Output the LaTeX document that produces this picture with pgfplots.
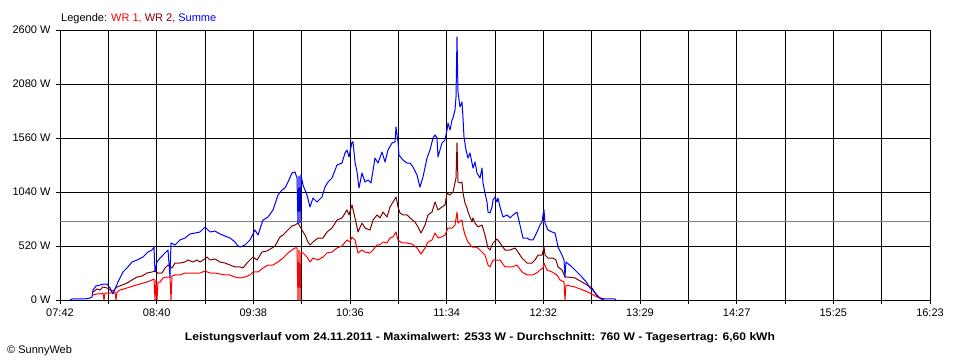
\documentclass[border=0pt]{standalone}
\usepackage{fontspec}
\setmainfont{Liberation Sans}
\usepackage{graphicx}
\usepackage{pgfplots}
\pgfplotsset{compat=1.18}
\definecolor{wrone}{RGB}{255,0,0}
\definecolor{wrtwo}{RGB}{128,0,0}
\definecolor{summe}{RGB}{0,0,255}
\definecolor{avggray}{RGB}{128,128,128}
\newcommand{\lbl}{\fontsize{11}{13}\selectfont}
\begin{document}
\begin{tikzpicture}
\begin{axis}[
  at={(0pt,0pt)}, anchor=south west,
  scale only axis, width=870pt, height=270pt,
  xmin=0, xmax=522, ymin=0, ymax=2600,
  xtick={0,29,...,522},
  xticklabels={07:42,,08:40,,09:38,,10:36,,11:34,,12:32,,13:29,,14:27,,15:25,,16:23},
  ytick={0,520,...,2600},
  yticklabels={0 W,520 W,1040 W,1560 W,2080 W,2600 W},
  xtick pos=bottom, ytick pos=left,
  grid=major, major grid style={black, line width=1pt},
  axis line style={black, line width=1pt},
  tick style={black, line width=1pt},
  tick align=outside, major tick length=4pt,
  xticklabel style={font=\lbl, yshift=-1pt},
  yticklabel style={font=\lbl, xshift=-2pt},
  every axis plot/.append style={line width=1pt, line join=round, mark=none},
  clip=false,
]
\addplot[avggray] coordinates {(0,760) (522,760)};
% WR 1
\addplot[wrone] coordinates {
(19.8,48) (22.2,58) (24,58) (25.8,67) (26.4,0) (27,67) (30,67) (33,77) (33.6,0) (34.2,77)
(36,96) (40.2,116) (43.8,135) (48,154) (52.2,173) (55.2,193) (56.4,202) (57,0) (57.6,193) (58.2,0)
(58.8,173) (60,173) (61.8,212) (64.2,221) (66,221) (66.6,0) (67.2,231) (69,241) (72,241) (75,260)
(78,260) (81,260) (84,260) (87,279) (90,260) (93,260) (96,250) (99,241) (102,241) (105,221)
(108,212) (111,221) (114,241) (115.8,270) (118.8,270) (121.8,308) (124.8,337) (127.8,337) (130.8,366) (133.8,404)
(136.8,453) (139.2,481) (141,501) (142.2,501) (142.8,0) (143.4,481) (144,0) (144.6,462) (145.8,453) (148.2,414)
(150,366) (151.8,404) (154.8,385) (157.8,414) (160.2,453) (163.2,462) (166.2,501) (169.2,520) (172.2,578) (174,559)
(175.2,607) (177,578) (178.8,453) (181.2,481) (183,462) (186,453) (187.8,481) (190.2,530) (192,530) (193.8,559)
(196.2,549) (198,597) (199.8,607) (201.6,655) (202.8,578) (205.2,549) (208.2,549) (211.2,539) (214.2,501) (216.6,443)
(219,501) (220.8,559) (223.2,578) (225,645) (226.8,597) (229.2,607) (231,626) (232.8,693) (235.2,693) (237,722)
(238.2,847) (238.8,741) (241.2,770) (241.8,703) (243,626) (244.8,559) (247.2,510) (249,510) (250.8,501) (253.2,462)
(255,433) (256.8,337) (258,318) (259.8,385) (262.2,385) (264,385) (267,318) (271.2,318) (274.2,337) (277.2,270)
(280.2,241) (283.8,241) (286.8,270) (288,289) (289.8,308) (290.4,356) (292.2,289) (295.2,270) (298.2,241) (300,193)
(302.4,173) (303,0) (303.6,144) (309,125) (313.8,96) (318,67) (321,39) (324,19) (325.2,0)
};
% WR 2
\addplot[wrtwo] coordinates {
(19.8,77) (22.2,106) (24,96) (25.8,125) (28.2,116) (30,96) (31.8,87) (34.2,125) (37.2,144) (40.2,164)
(43.2,193) (46.2,221) (49.2,231) (52.2,260) (55.2,270) (57,279) (58.8,260) (61.2,260) (63,308) (64.8,337)
(67.2,308) (69,356) (72,356) (75,366) (76.8,385) (79.8,366) (82.2,385) (84,366) (85.8,385) (88.2,414)
(90,385) (93,395) (96,366) (99,356) (102,337) (105,318) (108,318) (109.8,308) (112.2,356) (114,385)
(115.8,414) (118.2,385) (121.2,462) (124.2,472) (127.2,501) (129,520) (132,607) (133.8,626) (136.8,674) (139.2,713)
(141,722) (142.8,741) (145.2,674) (147,626) (148.8,559) (150,530) (151.8,559) (154.8,597) (157.8,597) (160.2,655)
(163.2,693) (166.2,770) (169.2,790) (172.2,867) (173.4,819) (175.2,915) (177,790) (178.8,655) (181.2,741) (183,693)
(186,674) (187.8,770) (190.2,819) (192,790) (193.8,847) (196.2,799) (198,896) (199.8,944) (201.6,992) (202.8,896)
(204,838) (205.8,819) (208.2,819) (210,790) (213,751) (214.8,703) (216.6,645) (219,722) (220.8,819) (223.2,847)
(225,944) (226.8,867) (229.2,896) (231,915) (232.2,1030) (234,1011) (235.8,1040) (237.6,1175) (238.2,1512) (238.8,1136)
(240,1127) (241.2,1136) (241.8,1030) (243,934) (244.2,886) (244.8,847) (246,799) (247.2,751) (247.8,790) (249,741)
(250.8,703) (253.2,722) (255,626) (256.8,501) (258,481) (259.8,549) (262.2,587) (264,549) (267,481) (270,481)
(273,501) (274.8,462) (277.2,404) (280.2,356) (283.2,356) (285,385) (286.8,433) (289.2,433) (290.4,510) (291,433)
(292.8,404) (295.8,404) (297.6,385) (298.8,318) (301.2,289) (303,221) (304.8,221) (309,212) (313.2,173) (316.2,144)
(319.2,116) (321,67) (322.8,29) (325.2,10) (326.4,0)
};
% Summe
\addplot[summe] coordinates {
(6,0) (7.2,10) (15,10) (18,19) (19.2,29) (19.8,96) (21.6,135) (24,144) (26.4,154) (28.2,154)
(30,116) (31.8,58) (33,106) (34.8,173) (37.8,270) (40.2,308) (43.2,366) (46.2,385) (49.8,414) (52.8,462)
(55.2,481) (56.4,510) (57,270) (58.2,366) (60,404) (61.8,433) (63.6,462) (64.8,481) (66,221) (66.6,549)
(69,530) (72,578) (75,597) (78,636) (81,645) (84,655) (87,703) (90,655) (93,664) (96,636)
(99,616) (102,597) (105,559) (106.2,530) (108,510) (111,530) (114,578) (117,674) (118.8,626) (121.8,770)
(124.8,799) (127.8,867) (130.8,1011) (133.2,1059) (135,1079) (136.8,1136) (139.2,1223) (141,1233) (142.2,1175) (142.8,741)
(143.4,1194) (144,741) (144.6,1204) (145.8,1107) (148.2,1011) (150,896) (151.8,982) (154.2,944) (157.2,992) (159,1088)
(160.8,1136) (163.2,1175) (166.2,1300) (169.2,1319) (171,1416) (172.2,1444) (173.4,1377) (175.2,1522) (175.8,1522) (177,1329)
(178.2,1233) (179.4,1079) (181.2,1223) (183,1136) (184.8,1156) (186.6,1127) (189,1367) (190.8,1319) (193.2,1425) (195,1329)
(196.8,1444) (199.2,1512) (201,1522) (201.6,1666) (202.8,1522) (203.4,1396) (205.8,1348) (208.2,1319) (210,1319) (211.8,1281)
(214.2,1204) (216,1088) (217.8,1184) (220.2,1367) (222,1444) (223.8,1560) (225,1589) (226.2,1560) (226.8,1377) (229.2,1512)
(231,1541) (232.2,1637) (232.8,1704) (234,1637) (235.2,1733) (235.8,1753) (237,1830) (237.6,1955) (238.2,2533) (238.8,2003)
(240,1859) (241.2,1907) (241.8,1753) (242.4,1570) (243.6,1444) (244.8,1367) (246,1416) (247.2,1319) (247.8,1271) (249,1329)
(250.2,1223) (252,1175) (253.2,1271) (253.8,1127) (255,1030) (256.2,944) (256.8,847) (258,838) (259.2,896) (259.8,963)
(261,992) (262.2,944) (262.8,982) (264,896) (265.8,799) (268.2,819) (270,790) (271.8,819) (274.2,847) (276,722)
(277.8,597) (280.2,597) (282,578) (283.8,578) (286.2,655) (288,722) (289.2,751) (289.8,819) (290.4,867) (291,741)
(292.8,674) (295.2,655) (297,645) (298.2,559) (298.8,510) (301.2,433) (302.4,385) (303,221) (303.6,366) (307.2,318)
(310.2,270) (313.2,221) (316.2,164) (318,116) (319.8,96) (322.2,48) (324,19) (327,10) (333,10) (333.6,0)
};
\end{axis}
\node[anchor=base west, font=\lbl, inner sep=0pt] at (1pt,279pt)
  {Legende: \textcolor{wrone}{WR 1,} \textcolor{wrtwo}{WR 2,} \textcolor{summe}{Summe}};
\node[anchor=base, font=\lbl\bfseries, inner sep=0pt] at (420pt,-40pt)
  {\scalebox{1.1}[1.0]{Leistungsverlauf vom 24.11.2011 - Maximalwert: 2533 W - Durchschnitt: 760 W - Tagesertrag: 6,60 kWh}};
\node[anchor=base west, font=\lbl, inner sep=0pt] at (-53pt,-53pt) {\textcopyright{} SunnyWeb};
\path[use as bounding box] (-60pt,-60pt) rectangle (900pt,300pt);
\end{tikzpicture}
\end{document}
